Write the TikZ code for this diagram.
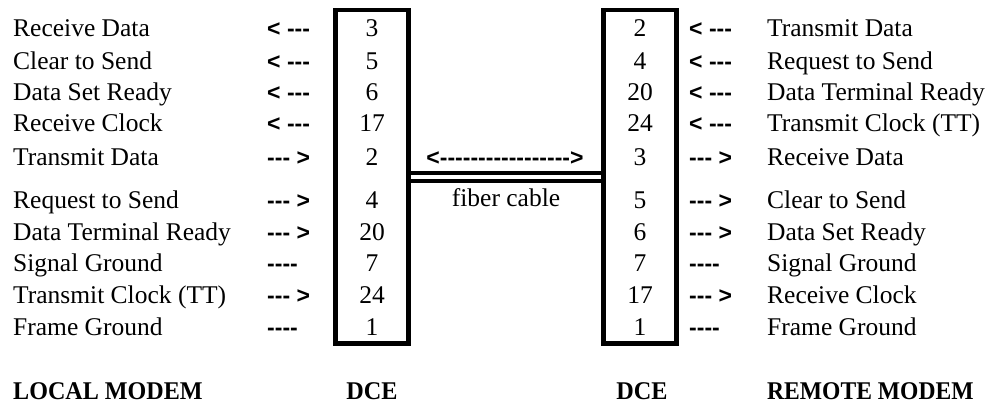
\documentclass[tikz,border=0pt]{standalone}
\usepackage{fontspec}
\usepackage{graphicx}
\setmainfont{Liberation Serif}
\newfontfamily\arrfont{Liberation Sans}[BoldFont={Liberation Sans Bold}]
\begin{document}
\begin{tikzpicture}[x=1pt,y=-1pt,
  lbl/.style={anchor=base west,inner sep=0pt,font=\fontsize{25.5}{30}\selectfont},
  num/.style={anchor=base,inner sep=0pt,font=\fontsize{25.5}{30}\selectfont},
  arr/.style={anchor=base west,inner sep=0pt,font=\arrfont\bfseries\fontsize{23}{28}\selectfont},
  dcebox/.style={draw,line width=4.5pt,inner sep=0pt,minimum width=73pt,minimum height=333.5pt},
  cable/.style={line width=4pt},
  foot/.style={anchor=base west,inner sep=0pt,font=\bfseries\fontsize{25.5}{30}\selectfont}]
\useasboundingbox (0,0) rectangle (992,404);
% boxes
\node[dcebox] (dceL) at (371.75,176.75) {};
\node[dcebox] (dceR) at (639.75,176.75) {};
% cable lines
\draw[cable] (dceL.east |- 0,173.3) -- (dceR.west |- 0,173.3);
\draw[cable] (dceL.east |- 0,180.5) -- (dceR.west |- 0,180.5);
% left column
\node[lbl] (l1) at (13,37) {Receive Data};
\node[lbl] (l2) at (13,69) {Clear to Send};
\node[lbl] (l3) at (13,100) {Data Set Ready};
\node[lbl] (l4) at (13,131) {Receive Clock};
\node[lbl] (l5) at (13,165) {Transmit Data};
\node[lbl] (l6) at (13,208) {Request to Send};
\node[lbl] (l7) at (13,240) {Data Terminal Ready};
\node[lbl] (l8) at (13,271) {Signal Ground};
\node[lbl] (l9) at (13,303) {Transmit Clock (TT)};
\node[lbl] (l10) at (13,335) {Frame Ground};
% left arrows
\node[arr] (la1) at (267,37) {< ---};
\node[arr] (la2) at (267,69) {< ---};
\node[arr] (la3) at (267,100) {< ---};
\node[arr] (la4) at (267,131) {< ---};
\node[arr] (la5) at (267,165) {--- >};
\node[arr] (la6) at (267,208) {--- >};
\node[arr] (la7) at (267,240) {--- >};
\node[arr] (la8) at (267,271) {----};
\node[arr] (la9) at (267,303) {--- >};
\node[arr] (la10) at (267,335) {----};
% left numbers
\node[num] (ln1) at (372,37) {3};
\node[num] (ln2) at (372,69) {5};
\node[num] (ln3) at (372,100) {6};
\node[num] (ln4) at (372,131) {17};
\node[num] (ln5) at (372,165) {2};
\node[num] (ln6) at (372,208) {4};
\node[num] (ln7) at (372,240) {20};
\node[num] (ln8) at (372,271) {7};
\node[num] (ln9) at (372,303) {24};
\node[num] (ln10) at (372,335) {1};
% right numbers
\node[num] (rn1) at (640,37) {2};
\node[num] (rn2) at (640,69) {4};
\node[num] (rn3) at (640,100) {20};
\node[num] (rn4) at (640,131) {24};
\node[num] (rn5) at (640,165) {3};
\node[num] (rn6) at (640,208) {5};
\node[num] (rn7) at (640,240) {6};
\node[num] (rn8) at (640,271) {7};
\node[num] (rn9) at (640,303) {17};
\node[num] (rn10) at (640,335) {1};
% right arrows
\node[arr] (ra1) at (689,37) {< ---};
\node[arr] (ra2) at (689,69) {< ---};
\node[arr] (ra3) at (689,100) {< ---};
\node[arr] (ra4) at (689,131) {< ---};
\node[arr] (ra5) at (689,165) {--- >};
\node[arr] (ra6) at (689,208) {--- >};
\node[arr] (ra7) at (689,240) {--- >};
\node[arr] (ra8) at (689,271) {----};
\node[arr] (ra9) at (689,303) {--- >};
\node[arr] (ra10) at (689,335) {----};
% right column
\node[lbl] (r1) at (767,37) {Transmit Data};
\node[lbl] (r2) at (767,69) {Request to Send};
\node[lbl] (r3) at (767,100) {Data Terminal Ready};
\node[lbl] (r4) at (767,131) {Transmit Clock (TT)};
\node[lbl] (r5) at (767,165) {Receive Data};
\node[lbl] (r6) at (767,208) {Clear to Send};
\node[lbl] (r7) at (767,240) {Data Set Ready};
\node[lbl] (r8) at (767,271) {Signal Ground};
\node[lbl] (r9) at (767,303) {Receive Clock};
\node[lbl] (r10) at (767,335) {Frame Ground};
% middle
\node[arr,anchor=base] (mid) at (505,165) {<----------------->};
\node[num] (fiber) at (506,206) {fiber cable};
% footer
\node[foot] (lm) at (13,399) {\scalebox{0.945}[1]{LOCAL MODEM}};
\node[foot,anchor=base] (dl) at (372,399) {\scalebox{0.95}[1]{DCE}};
\node[foot,anchor=base] (dr) at (642,399) {\scalebox{0.95}[1]{DCE}};
\node[foot] (rm) at (767,399) {\scalebox{0.925}[1]{REMOTE MODEM}};
\end{tikzpicture}
\end{document}
